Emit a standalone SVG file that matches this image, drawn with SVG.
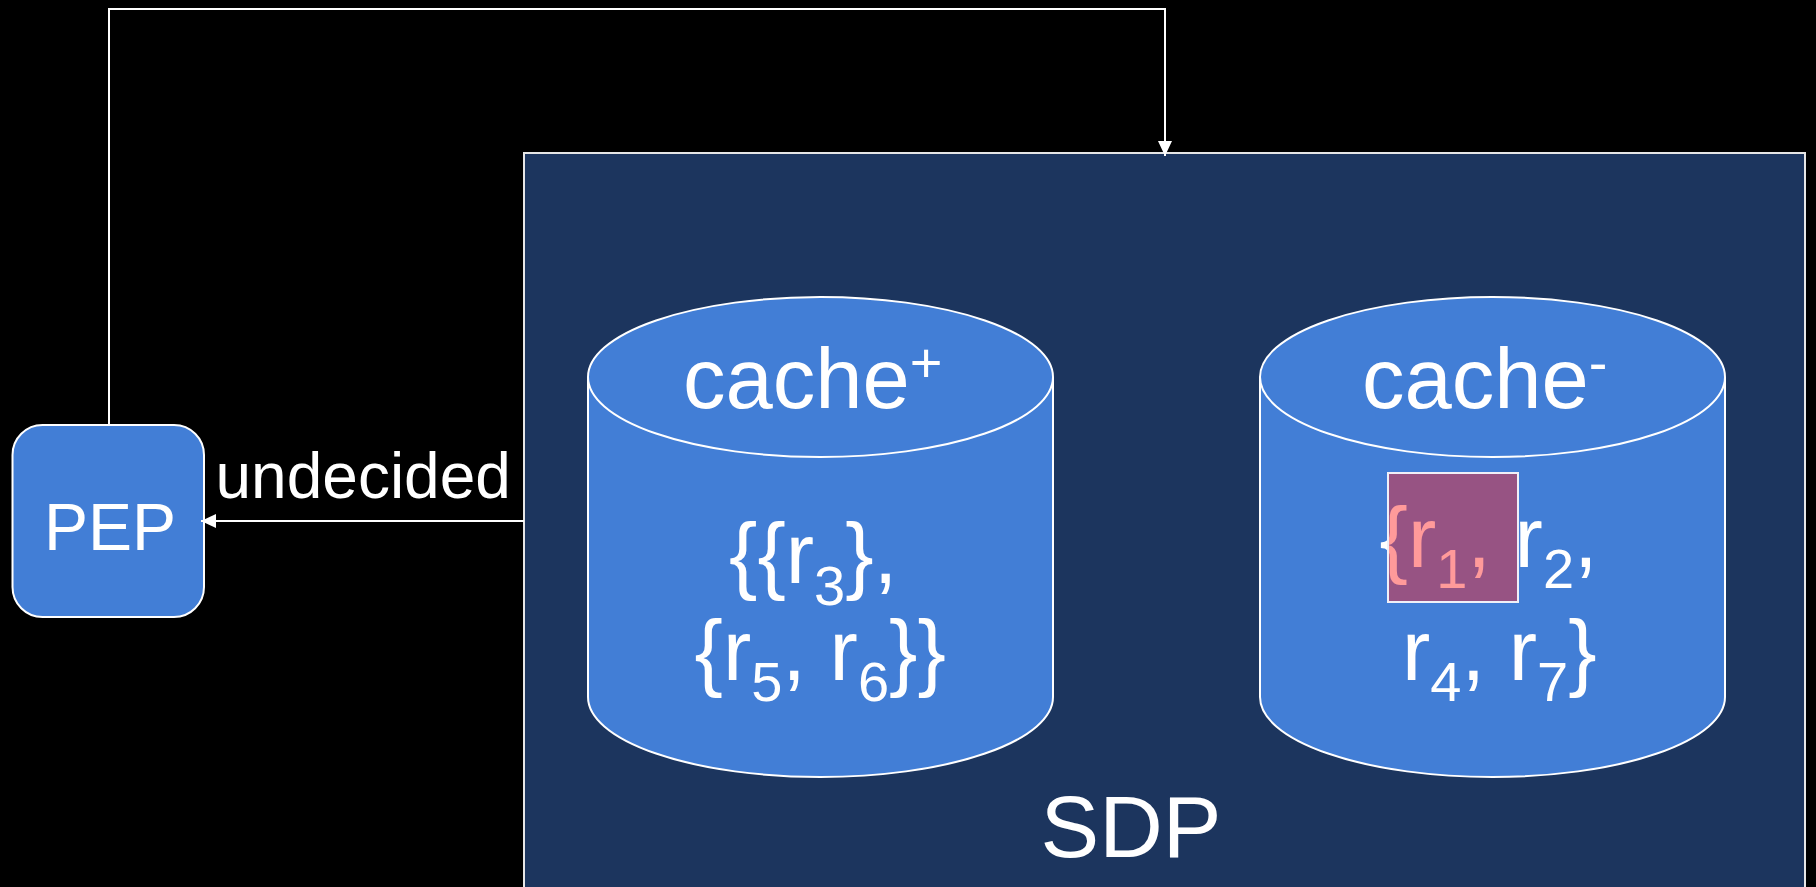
<svg xmlns="http://www.w3.org/2000/svg" width="1816" height="887" viewBox="0 0 1816 887">
  <style>
    text { font-family: "Liberation Sans", Arial, sans-serif; fill: #ffffff; }
    .node { fill: #427ed6; stroke: #ffffff; stroke-width: 2; }
    .edge { fill: none; stroke: #ffffff; stroke-width: 2; }
    .big { font-size: 85px; }
    .sub { font-size: 56px; }
  </style>
  <defs>
    <marker id="arrow" markerUnits="userSpaceOnUse" markerWidth="16" markerHeight="16" viewBox="0 0 16 16" refX="15" refY="8" orient="auto">
      <path d="M0,1 L15,8 L0,15 Z" fill="#ffffff"/>
    </marker>
  </defs>

  <rect x="0" y="0" width="1816" height="887" fill="#000000"/>

  <!-- SDP container -->
  <g id="sdp">
    <rect x="524" y="153" width="1281" height="760" fill="#1c355e" stroke="#e6e6e6" stroke-width="2"/>
    <text x="1131" y="857" font-size="88" text-anchor="middle">SDP</text>
  </g>

  <!-- positive cache -->
  <g id="cache-plus">
    <path class="node" d="M588,377 V697 A232.5,80 0 0 0 1053,697 V377"/>
    <ellipse class="node" cx="820.5" cy="377" rx="232.5" ry="80"/>
    <text class="big" x="683" y="408">cache<tspan class="sub" dy="-26">+</tspan></text>
    <text class="big" x="729" y="583">{{r<tspan class="sub" dy="22">3</tspan><tspan dy="-22">},</tspan></text>
    <text class="big" x="694.5" y="680">{r<tspan class="sub" dy="21">5</tspan><tspan dy="-21">, r</tspan><tspan class="sub" dy="21">6</tspan><tspan dy="-21">}}</tspan></text>
  </g>

  <!-- negative cache -->
  <g id="cache-minus">
    <path class="node" d="M1260,377 V697 A232.5,80 0 0 0 1725,697 V377"/>
    <ellipse class="node" cx="1492.5" cy="377" rx="232.5" ry="80"/>
    <text class="big" x="1362" y="408">cache<tspan class="sub" dy="-26">-</tspan></text>
    <text class="big" x="1379.5" y="567">{r<tspan class="sub" dy="21">1</tspan><tspan dy="-21">, r</tspan><tspan class="sub" dy="21">2</tspan><tspan dy="-21">,</tspan></text>
    <text class="big" x="1402" y="680">r<tspan class="sub" dy="21">4</tspan><tspan dy="-21">, r</tspan><tspan class="sub" dy="21">7</tspan><tspan dy="-21">}</tspan></text>
    <!-- highlighted element -->
    <rect x="1388" y="473" width="130" height="129" fill="#ff1e1e" fill-opacity="0.45" stroke="#f0f0f8" stroke-width="2"/>
  </g>

  <!-- PEP -->
  <g id="pep">
    <rect class="node" x="12.5" y="425" width="191.5" height="192" rx="30" ry="30"/>
    <text x="110" y="550" font-size="66" text-anchor="middle">PEP</text>
  </g>

  <!-- connectors -->
  <g id="connectors">
    <path class="edge" d="M109,424 V9 H1165 V156" marker-end="url(#arrow)"/>
    <path class="edge" d="M524,521 H201" marker-end="url(#arrow)"/>
    <text x="215.5" y="498" font-size="64">undecided</text>
  </g>
</svg>
